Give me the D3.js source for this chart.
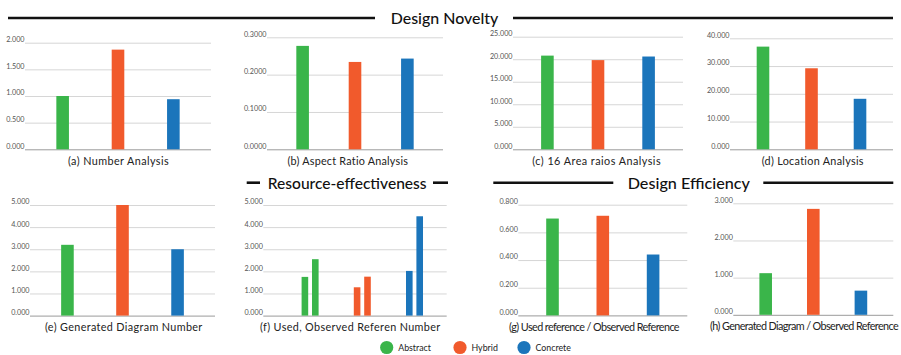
<!DOCTYPE html>
<html>
<head>
<meta charset="utf-8">
<script src="https://cdn.jsdelivr.net/npm/d3@7"></script>
<style>
  html, body { margin: 0; padding: 0; background: #fff; }
  svg { display: block; }
  text { font-family: Lato, "Noto Sans", sans-serif; }
</style>
</head>
<body>
<svg id="chart" width="901" height="355"></svg>
<script>
// Three design approaches compared across eight measures
const categories = ["Abstract", "Hybrid", "Concrete"];
const colors = ["#3ab54a", "#f15a2c", "#1b75bb"];

const numberAnalysis = [1.0, 1.87, 0.94];
const aspectRatio = [0.277, 0.234, 0.243];
const areaRatios = [20.8, 19.8, 20.6];
const locationAnalysis = [37.0, 29.2, 18.2];
const generatedDiagrams = [3.2, 5.0, 3.0];
const usedReferences = [1.75, 1.28, 2.02];
const observedReferences = [2.55, 1.76, 4.49];
const usedPerObserved = [0.70, 0.72, 0.44];
const generatedPerObserved = [1.12, 2.85, 0.65];

const ticksA = [0, 0.5, 1.0, 1.5, 2.0];
const ticksB = [0, 0.1, 0.2, 0.3];
const ticksC = [0, 5, 10, 15, 20, 25];
const ticksD = [0, 10, 20, 30, 40];
const ticksE = [0, 1, 2, 3, 4, 5];
const ticksG = [0, 0.2, 0.4, 0.6, 0.8];
const ticksH = [0, 1, 2, 3];

const sectionTitles = ["Design Novelty", "Resource-effectiveness", "Design Efficiency"];

const svg = d3.select("#chart");

// scale a text's font size so that it spans the given width
function fitWidth(sel, width) {
  const fs = parseFloat(sel.attr("font-size"));
  const w = sel.node().getComputedTextLength();
  if (w > 0) sel.attr("font-size", fs * width / w);
}

// keep the font size and spread or tighten the letters to span the given width
function spreadToWidth(sel, width) {
  const w = sel.node().getComputedTextLength();
  const n = sel.text().length;
  if (w > 0 && n > 1) sel.attr("letter-spacing", (width - w) / n);
}

// panel frames: gridline extent, zero line / top tick position, caption centre and width
const panels = [
  { caption: "(a) Number Analysis", series: [numberAnalysis], ticks: ticksA, fmt: ".3f",
    gx: [25, 211], y: [149.3, 42.7], cap: [118.5, 101] },
  { caption: "(b) Aspect Ratio Analysis", series: [aspectRatio], ticks: ticksB, fmt: ".4f",
    gx: [267, 443], y: [149.3, 37.3], cap: [347.8, 121] },
  { caption: "(c) 16 Area raios Analysis", series: [areaRatios], ticks: ticksC, fmt: ".3f",
    gx: [513, 683], y: [149.3, 36.7], cap: [596.7, 128.7] },
  { caption: "(d) Location Analysis", series: [locationAnalysis], ticks: ticksD, fmt: ".3f",
    gx: [730, 893], y: [149.3, 38.3], cap: [812.8, 102.3] },
  { caption: "(e) Generated Diagram Number", series: [generatedDiagrams], ticks: ticksE, fmt: ".3f",
    gx: [30, 215], y: [315.6, 205], cap: [123.8, 157.7] },
  { caption: "(f) Used, Observed Referen Number", series: [usedReferences, observedReferences], ticks: ticksE, fmt: ".3f",
    gx: [263.3, 446.7], bx: [274.6, 450], y: [315.6, 205], cap: [350.3, 180.7] },
  { caption: "(g) Used reference / Observed Reference", series: [usedPerObserved], ticks: ticksG, fmt: ".3f",
    gx: [518.3, 687.3], y: [315.4, 204.7], cap: [594, 170] },
  { caption: "(h) Generated Diagram / Observed Reference", series: [generatedPerObserved], ticks: ticksH, fmt: ".3f",
    gx: [733.3, 893.3], y: [314.8, 203.3], cap: [804, 188] }
];

panels.forEach(p => {
  const g = svg.append("g");
  const yMax = p.ticks[p.ticks.length - 1];
  const y = d3.scaleLinear().domain([0, yMax]).range(p.y);
  const bx = p.bx || p.gx;
  const x = d3.scalePoint().domain(categories).range(bx).padding(0.68);
  const fmt = d3.format(p.fmt);

  // horizontal gridlines with labels resting on them
  const axis = d3.axisLeft(y).tickValues(p.ticks).tickFormat(fmt)
    .tickSize(-(p.gx[1] - p.gx[0])).tickPadding(0);
  const ax = g.append("g").attr("transform", `translate(${p.gx[0]},0)`).call(axis);
  ax.select(".domain").remove();
  ax.selectAll(".tick line")
    .attr("stroke", d => d === 0 ? "#9a9a9a" : "#d6d6d6")
    .attr("stroke-width", 1);
  ax.selectAll(".tick text")
    .attr("x", -0.5).attr("dy", "-0.15em")
    .attr("fill", "#555").attr("font-size", 7.2)
    .attr("font-family", "Lato, sans-serif");

  // bars
  const n = p.series.length;
  const barW = n === 1 ? 12.6 : 6.6;
  const gap = 3.8;
  p.series.forEach((vals, si) => {
    const off = n === 1 ? 0 : (si - (n - 1) / 2) * (barW + gap);
    g.selectAll(null).data(vals).join("rect")
      .attr("x", (d, i) => x(categories[i]) + off - barW / 2)
      .attr("width", barW)
      .attr("y", d => y(d))
      .attr("height", d => y(0) - y(d))
      .attr("fill", (d, i) => colors[i]);
  });

  const cap = g.append("text")
    .attr("x", p.cap[0])
    .attr("y", p.y[0] + 15.5)
    .attr("text-anchor", "middle")
    .attr("font-size", 10.8)
    .attr("fill", "#222")
    .text(p.caption);
  spreadToWidth(cap, p.cap[1]);
});

// section headings with rules
const headings = [
  { text: sectionTitles[0], cx: 444.5, w: 107.6, y: 18, left: [8, 375], right: [513, 893] },
  { text: sectionTitles[1], cx: 347.2, w: 159, y: 182.7, left: [246.7, 260], right: [433, 448] },
  { text: sectionTitles[2], cx: 688.8, w: 122.3, y: 182.7, left: [493.3, 613.3], right: [763.3, 893.3] }
];
headings.forEach(h => {
  [h.left, h.right].forEach(seg => {
    svg.append("line")
      .attr("x1", seg[0]).attr("x2", seg[1])
      .attr("y1", h.y).attr("y2", h.y)
      .attr("stroke", "#111").attr("stroke-width", 2.6);
  });
  const t = svg.append("text")
    .attr("x", h.cx).attr("y", h.y + 6)
    .attr("text-anchor", "middle")
    .attr("font-size", 16.5)
    .attr("font-weight", 500)
    .attr("fill", "#111")
    .text(h.text);
  fitWidth(t, h.w);
});

// legend
const legendX = [386.7, 460, 524];
const legend = svg.append("g");
categories.forEach((c, i) => {
  legend.append("circle")
    .attr("cx", legendX[i]).attr("cy", 347.5).attr("r", 6.6)
    .attr("fill", colors[i]);
  legend.append("text")
    .attr("x", legendX[i] + 11.5).attr("y", 347.5).attr("dy", "0.35em")
    .attr("font-size", 8.8).attr("fill", "#222")
    .text(c);
});
</script>
</body>
</html>
